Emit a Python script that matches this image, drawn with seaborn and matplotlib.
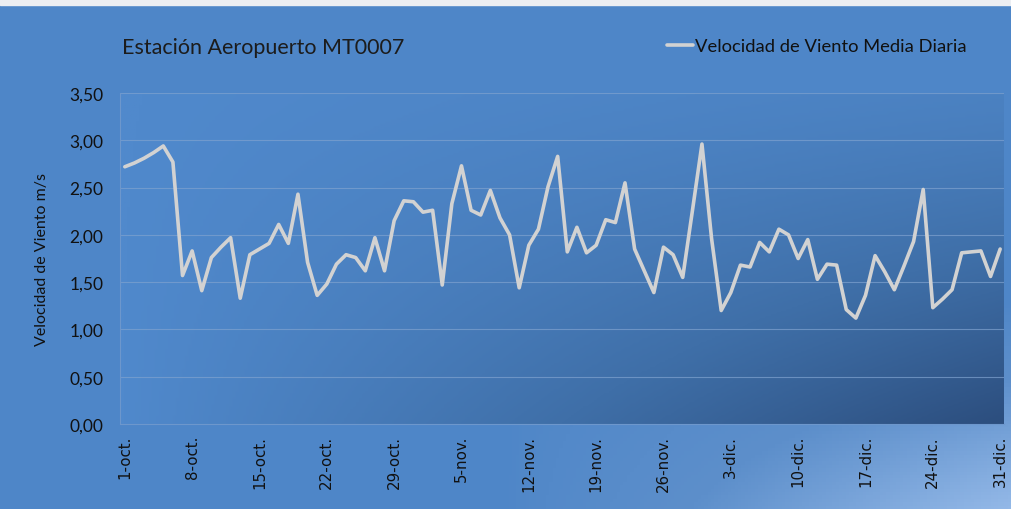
import matplotlib.pyplot as plt
import numpy as np
import pandas as pd
import seaborn as sns
from matplotlib.colors import LinearSegmentedColormap
from matplotlib.patches import Rectangle

# Velocidad media diaria del viento (m/s), estacion MT0007
oct_vals = [2.72, 2.76, 2.81, 2.87, 2.94, 2.77, 1.57, 1.83, 1.41, 1.76,
            1.87, 1.97, 1.33, 1.79, 1.85, 1.91, 2.11, 1.91, 2.43, 1.71,
            1.36, 1.48, 1.69, 1.79, 1.76, 1.62, 1.97, 1.62, 2.15, 2.36, 2.35]
nov_vals = [2.24, 2.26, 1.47, 2.33, 2.73, 2.26, 2.21, 2.47, 2.18, 2.00,
            1.44, 1.89, 2.06, 2.51, 2.83, 1.82, 2.08, 1.81, 1.89, 2.16,
            2.13, 2.55, 1.85, 1.62, 1.39, 1.87, 1.79, 1.55, 2.25, 2.96]
dic_vals = [1.96, 1.20, 1.39, 1.68, 1.66, 1.92, 1.82, 2.06, 2.00, 1.75,
            1.95, 1.53, 1.69, 1.68, 1.21, 1.12, 1.36, 1.78, 1.61, 1.42,
            1.67, 1.93, 2.48, 1.23, 1.32, 1.42, 1.81, 1.82, 1.83, 1.56, 1.85]
tick_labels = ["1-oct.", "8-oct.", "15-oct.", "22-oct.", "29-oct.", "5-nov.", "12-nov.",
               "19-nov.", "26-nov.", "3-dic.", "10-dic.", "17-dic.", "24-dic.", "31-dic."]
y_ticks = [0.0, 0.5, 1.0, 1.5, 2.0, 2.5, 3.0, 3.5]

SERIES = "Velocidad de Viento Media Diaria"
values = oct_vals + nov_vals + dic_vals
df = pd.DataFrame({"dia": np.arange(len(values)), "velocidad": values})

sns.set_theme(style="white")
plt.rcParams["font.family"] = ["Lato", "DejaVu Sans"]
TXT = "#111111"

fig = plt.figure(figsize=(10.11, 5.10), dpi=100)

# fondo de la figura: azul con esquina inferior derecha mas clara
bg = fig.add_axes([0, 0, 1, 1], zorder=-10)
gx, gy = np.meshgrid(np.linspace(0, 1, 300), np.linspace(0, 1, 150))
t_bg = np.clip((gx - 0.5) / 0.5, 0, 1) * np.clip((gy - 0.6) / 0.4, 0, 1)
cmap_bg = LinearSegmentedColormap.from_list("bg", ["#4e86c8", "#5d8fcb", "#93b8e7"])
bg.imshow(t_bg ** 0.7, cmap=cmap_bg, aspect="auto", extent=[0, 1, 0, 1], origin="upper")
bg.set_axis_off()
fig.patches.append(Rectangle((0, 1 - 6 / 510), 1, 6 / 510, transform=fig.transFigure,
                             color="#eceef2", zorder=-5))

ax = fig.add_axes([120 / 1011, 85 / 510, 884 / 1011, 331 / 510])
ax.set_facecolor("none")
t_pa = gx * (0.15 + 0.85 * gy ** 1.2)
cmap_pa = LinearSegmentedColormap.from_list("pa", ["#5089cc", "#3f6fa8", "#2c4e7e"])
ax.imshow(t_pa, cmap=cmap_pa, aspect="auto", extent=[0, 1, 0, 1], origin="upper",
          transform=ax.transAxes, zorder=0)

for yv in y_ticks[1:]:
    ax.axhline(yv, color="#7fa2cf", lw=0.8, alpha=0.7, zorder=1)

sns.lineplot(data=df, x="dia", y="velocidad", ax=ax, color="#d2d2d2", lw=2.6,
             label=SERIES, zorder=3)

ax.set_xlim(-0.5, 91.4)
ax.set_ylim(0, 3.5)
ax.set_xticks(np.arange(0, len(values), 7))
ax.set_xticklabels(tick_labels, rotation=90, fontsize=10.8, color=TXT)
for lbl in ax.get_xticklabels():
    lbl.set_fontfamily("DejaVu Sans")
ax.set_yticks(y_ticks)
ax.set_yticklabels([f"{v:.2f}".replace(".", ",") for v in y_ticks], fontsize=12.5, color=TXT)
ax.tick_params(axis="x", length=0, pad=8)
ax.tick_params(axis="y", length=0, pad=12)
ax.set_xlabel("")
ax.set_ylabel("Velocidad de Viento m/s", fontsize=11.5, color=TXT)
ax.yaxis.set_label_coords(-0.080, 0.5)
for side in ["top", "right"]:
    ax.spines[side].set_visible(False)
for side in ["left", "bottom"]:
    ax.spines[side].set_color("#6d97cc")
    ax.spines[side].set_linewidth(0.8)

fig.text(122 / 1011, 1 - 48 / 510, "Estación Aeropuerto MT0007", fontsize=15.5,
         color="#1c1c1c", va="center", ha="left")
leg = ax.legend(loc="center left", bbox_to_anchor=(660 / 1011, 1 - 47 / 510),
                bbox_transform=fig.transFigure, frameon=False, fontsize=13.2,
                handlelength=1.4, handletextpad=0.1, borderaxespad=0)
for txt in leg.get_texts():
    txt.set_color(TXT)

fig.savefig("out.png", dpi=100)
